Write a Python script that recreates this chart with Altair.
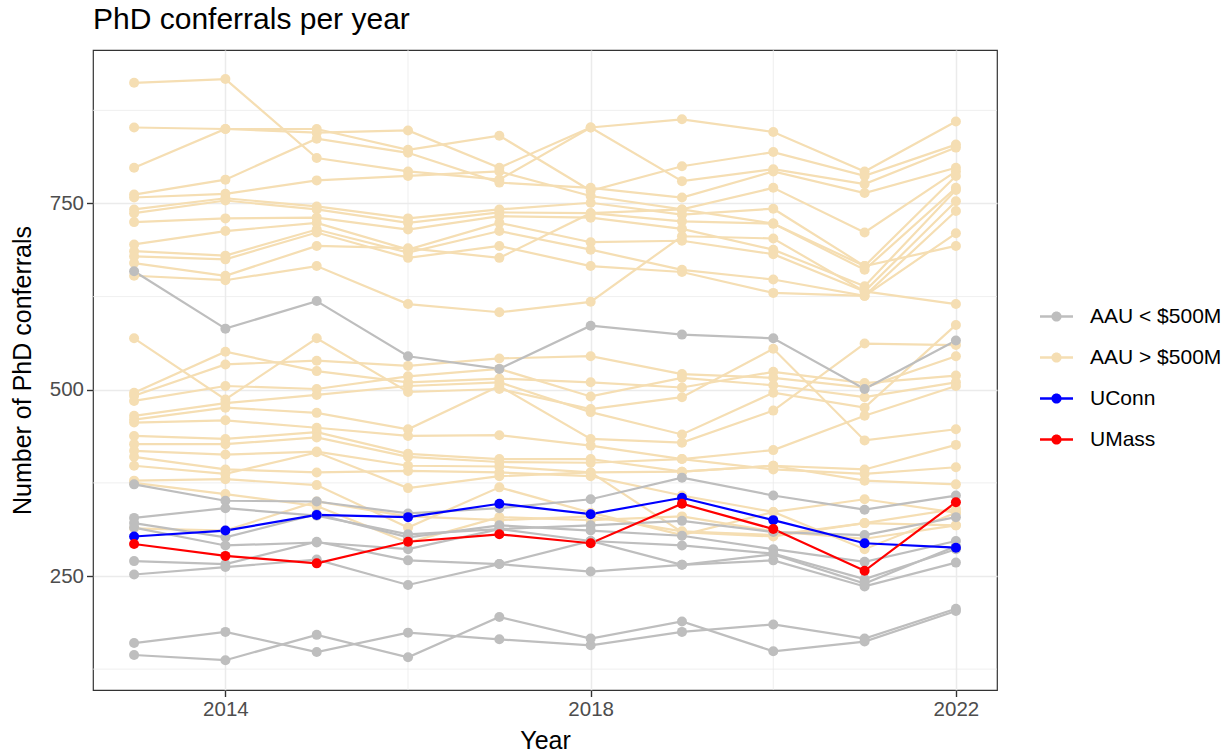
import altair as alt
import pandas as pd

YEARS = [2013, 2014, 2015, 2016, 2017, 2018, 2019, 2020, 2021, 2022]

GROUPS = ["AAU < $500M", "AAU > $500M", "UConn", "UMass"]
COLORS = ["#BEBEBE", "#F5DEB3", "#0000FF", "#FF0000"]

# PhD conferrals per year, one list per institution
UCONN = [303, 311, 332, 329, 347, 333, 355, 325, 294, 288]
UMASS = [293, 277, 267, 296, 306, 294, 347, 313, 257, 349]

AAU_SMALL = [
    [659, 582, 619, 545, 528, 586, 574, 569, 501, 566],
    [373, 351, 350, 334, 341, 353, 382, 358, 339, 358],
    [328, 341, 331, 306, 313, 318, 324, 309, 305, 329],
    [321, 302, 333, 302, 318, 311, 304, 286, 269, 297],
    [315, 291, 295, 286, 313, 297, 291, 280, 246, 286],
    [270, 266, 296, 271, 266, 297, 265, 271, 236, 268],
    [252, 262, 272, 238, 266, 256, 265, 279, 240, 290],
    [160, 175, 148, 174, 165, 157, 175, 185, 166, 206],
    [144, 137, 171, 141, 195, 166, 189, 149, 162, 203],
]

AAU_LARGE = [
    [912, 917, 811, 793, 782, 852, 863, 846, 793, 860],
    [852, 850, 850, 822, 841, 767, 800, 819, 787, 829],
    [798, 850, 845, 848, 798, 852, 780, 796, 776, 825],
    [762, 782, 837, 818, 778, 771, 758, 793, 764, 798],
    [758, 763, 781, 787, 793, 760, 742, 771, 711, 793],
    [742, 757, 746, 730, 742, 751, 735, 743, 666, 787],
    [737, 754, 742, 724, 738, 737, 726, 723, 661, 771],
    [725, 730, 731, 715, 733, 731, 716, 688, 639, 768],
    [695, 713, 724, 688, 724, 698, 700, 682, 632, 753],
    [686, 680, 715, 684, 713, 688, 661, 648, 626, 740],
    [679, 675, 711, 677, 693, 666, 658, 630, 626, 710],
    [670, 653, 693, 690, 677, 737, 742, 723, 666, 693],
    [653, 647, 666, 615, 604, 618, 706, 703, 632, 615],
    [569, 487, 569, 497, 501, 474, 490, 555, 432, 447],
    [496, 551, 525, 510, 515, 510, 503, 524, 509, 519],
    [492, 534, 539, 532, 542, 545, 521, 516, 503, 545],
    [485, 505, 501, 518, 528, 491, 516, 506, 490, 510],
    [465, 482, 493, 505, 510, 470, 440, 496, 476, 587],
    [460, 476, 469, 447, 505, 434, 429, 472, 562, 560],
    [456, 459, 449, 438, 439, 425, 407, 419, 465, 505],
    [438, 434, 443, 414, 407, 407, 390, 398, 393, 426],
    [427, 427, 436, 410, 403, 402, 407, 393, 387, 396],
    [418, 413, 417, 398, 397, 389, 390, 398, 378, 373],
    [410, 393, 389, 391, 389, 384, 358, 336, 353, 335],
    [398, 387, 416, 368, 384, 389, 309, 303, 321, 318],
    [378, 380, 372, 315, 369, 335, 305, 336, 286, 335],
    [375, 360, 344, 295, 329, 325, 330, 310, 300, 318],
    [314, 311, 350, 330, 325, 330, 310, 305, 321, 340],
]

Y_TICKS = [250, 500, 750]
X_TICKS = [2014, 2018, 2022]
Y_MINOR = [125, 375, 625, 875]
X_MINOR = [2016, 2020]

FONT = "Liberation Sans"

rows = []
order = 0


def add_series(name, group, values):
    global order
    for yr, v in zip(YEARS, values):
        rows.append({"inst": name, "group": group, "year": yr, "phd": v, "z": order})
    order += 1


for i, s in enumerate(AAU_LARGE):
    add_series(f"large{i}", GROUPS[1], s)
for i, s in enumerate(AAU_SMALL):
    add_series(f"small{i}", GROUPS[0], s)
add_series("UConn", GROUPS[2], UCONN)
add_series("UMass", GROUPS[3], UMASS)

df = pd.DataFrame(rows)

x_scale = alt.Scale(domain=[2012.55, 2022.45], nice=False, zero=False)
y_scale = alt.Scale(domain=[97, 956], nice=False, zero=False)
color_scale = alt.Scale(domain=GROUPS, range=COLORS)

x_axis = alt.Axis(values=X_TICKS, format="d", title="Year", grid=True)
y_axis = alt.Axis(values=Y_TICKS, title="Number of PhD conferrals", grid=True)

legend_symbol = (
    "M-1,-0.07H1V0.07H-1Z "
    "M-0.31,0A0.31,0.31 0 1,1 0.31,0A0.31,0.31 0 1,1 -0.31,0Z"
)
legend = alt.Legend(
    title=None,
    orient="none",
    legendX=947,
    legendY=250,
    symbolType=legend_symbol,
    symbolSize=1089,
    symbolStrokeWidth=0,
    symbolOpacity=1,
    labelFontSize=21,
    labelFont=FONT,
    labelColor="black",
    labelOffset=17,
    rowPadding=14,
    padding=0,
)

x_enc = alt.X("year:Q", scale=x_scale, axis=x_axis)
y_enc = alt.Y("phd:Q", scale=y_scale, axis=y_axis)
color_enc = alt.Color("group:N", scale=color_scale, legend=legend)

# thin minor gridlines between the labelled ones
minor_x = (
    alt.Chart(pd.DataFrame({"year": X_MINOR}))
    .mark_rule(color="#EBEBEB", strokeWidth=0.8)
    .encode(x=x_enc)
)
minor_y = (
    alt.Chart(pd.DataFrame({"phd": Y_MINOR}))
    .mark_rule(color="#EBEBEB", strokeWidth=0.8)
    .encode(y=y_enc)
)

base = alt.Chart(df)

lines = base.mark_line(strokeWidth=2.2).encode(
    x=x_enc,
    y=y_enc,
    color=color_enc,
    detail="inst:N",
    order=alt.Order("year:Q"),
)

points = base.mark_point(filled=True, size=100, opacity=1).encode(
    x=x_enc,
    y=y_enc,
    color=color_enc,
    order=alt.Order("z:Q"),
)

chart = (
    alt.layer(minor_x, minor_y, lines, points)
    .properties(
        width=904,
        height=640,
        padding={"left": 93, "top": 50, "right": 231, "bottom": 62},
        autosize=alt.AutoSizeParams(type="none"),
        title=alt.TitleParams(
            "PhD conferrals per year",
            anchor="start",
            frame="group",
            font=FONT,
            fontSize=30,
            fontWeight="normal",
            color="black",
            baseline="alphabetic",
            offset=19,
            dy=28,
        ),
        background="white",
    )
    .configure_view(stroke="#333333", strokeWidth=1.2)
    .configure_axis(
        labelFont=FONT,
        labelFontSize=20.5,
        labelColor="#4D4D4D",
        titleFont=FONT,
        titleFontSize=25,
        titleFontWeight="normal",
        titleColor="black",
        tickColor="#333333",
        tickSize=6.5,
        tickWidth=1.4,
        domain=False,
        gridColor="#EBEBEB",
        gridWidth=1.5,
        labelPadding=3,
    )
    .configure_axisX(titlePadding=8)
    .configure_axisY(titlePadding=14)
)

chart.save("out.html", embed_options={"renderer": "svg", "actions": False})
